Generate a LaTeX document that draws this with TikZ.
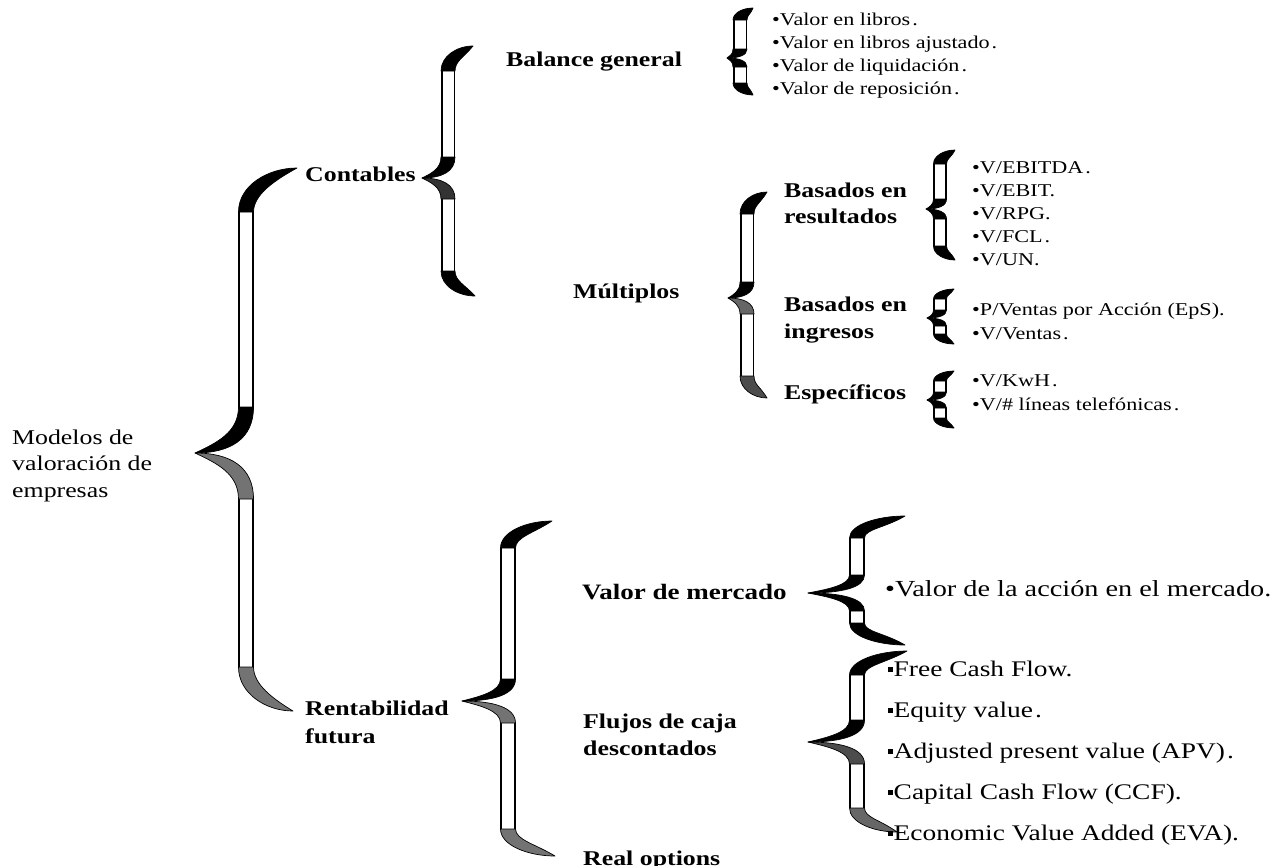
\documentclass[tikz,border=0pt]{standalone}
\usepackage{fontspec}
\setmainfont{Liberation Serif}[FakeStretch=1.23]
\newcommand\setrib[1]{\def\rbW{#1}\pgfmathsetmacro\rbD{#1-3}}
\def\ribT{black}\def\ribU{black}\def\ribL{black}\def\ribB{black}
% #1,#2 top tip; #3 x of vertical; #4,#5 cusp; #6,#7 bottom tip; #8 curl height; #9 cusp height
\newcommand\ribbon[9]{%
 \pgfmathsetmacro\rbXl{#3-\rbW/2}%
 \pgfmathsetmacro\rbXr{#3+\rbW/2}%
 \pgfmathsetmacro\rbT{min(\rbW*0.8,0.6*#8)}%
 % top curl
 \pgfmathsetmacro\tA{\rbXl+0.5*(#1-\rbXl)}%
 \pgfmathsetmacro\tB{#2+0.4*#8}%
 \pgfmathsetmacro\tE{#2+#8}%
 \pgfmathsetmacro\tC{#2+0.6*#8}%
 \pgfmathsetmacro\tD{#1-0.5*(#1-\rbXr)}%
 \pgfmathsetmacro\tF{#2+\rbT}%
 % cusp
 \pgfmathsetmacro\cA{#5-#9}%
 \pgfmathsetmacro\cB{#5-0.45*#9}%
 \pgfmathsetmacro\cC{#4+0.5*(\rbXl-#4)}%
 \pgfmathsetmacro\cD{#4+0.6*(\rbXr-#4)}%
 \pgfmathsetmacro\cE{#5-0.3*#9}%
 \pgfmathsetmacro\cF{#5+#9}%
 \pgfmathsetmacro\cG{#5+0.45*#9}%
 \pgfmathsetmacro\cH{#5+0.3*#9}%
 \pgfmathsetmacro\cU{#5-0.22*#9}%
 \pgfmathsetmacro\cV{#5+0.22*#9}%
 % bottom curl
 \pgfmathsetmacro\bA{\rbXl+0.5*(#6-\rbXl)}%
 \pgfmathsetmacro\bB{#7-0.4*#8}%
 \pgfmathsetmacro\bE{#7-#8}%
 \pgfmathsetmacro\bC{#7-0.6*#8}%
 \pgfmathsetmacro\bD{#6-0.5*(#6-\rbXr)}%
 \pgfmathsetmacro\bF{#7-\rbT}%
 \draw[rib] (#3,\tE) -- (#3,\cA);
 \draw[rib] (#3,\cF) -- (#3,\bE);
 \filldraw[curl,fill=\ribT] (#1,#2) .. controls (\tA,#2) and (\rbXl,\tB) .. (\rbXl,\tE) -- (\rbXr,\tE) .. controls (\rbXr,\tC) and (\tD,\tF) .. (#1,#2) -- cycle;
 \filldraw[curl,fill=\ribU] (\rbXl,\cA) .. controls (\rbXl,\cB) and (\cC,\cU) .. (#4,#5) .. controls (\cD,#5) and (\rbXr,\cE) .. (\rbXr,\cA) -- cycle;
 \filldraw[curl,fill=\ribL] (\rbXl,\cF) .. controls (\rbXl,\cG) and (\cC,\cV) .. (#4,#5) .. controls (\cD,#5) and (\rbXr,\cH) .. (\rbXr,\cF) -- cycle;
 \filldraw[curl,fill=\ribB] (#6,#7) .. controls (\bA,#7) and (\rbXl,\bB) .. (\rbXl,\bE) -- (\rbXr,\bE) .. controls (\rbXr,\bC) and (\bD,\bF) .. (#6,#7) -- cycle;
}
\tikzset{
 rib/.style={draw=black,line width=1.6pt,double=white,double distance=\rbD pt},
 curl/.style={draw=black,line width=0.7pt,line join=round},
 lab/.style={anchor=base west,inner sep=0pt,align=left,font=\fontsize{21}{27}\selectfont\bfseries},
 root/.style={anchor=base west,inner sep=0pt,align=left,font=\fontsize{21}{26.5}\selectfont},
 small/.style={anchor=base west,inner sep=0pt,align=left,font=\fontsize{18}{23}\selectfont},
 big/.style={anchor=base west,inner sep=0pt,align=left,font=\fontsize{22.3}{41}\selectfont},
}
\newcommand\sq{\rule[4pt]{4.5pt}{5.5pt}\kern1pt}
\begin{document}
\begin{tikzpicture}[x=1pt,y=-1pt]
\useasboundingbox (0,0) rectangle (1284,865);
\clip (0,0) rectangle (1284,865);
\fill[white] (0,0) rectangle (1284,865);

% braces
\setrib{15}\def\ribT{black}\def\ribU{black}\def\ribL{black!55}\def\ribB{black!55}
\ribbon{297}{168}{246}{195}{453}{293}{711}{44}{46}
\setrib{14}\def\ribT{black}\def\ribU{black}\def\ribL{black!80}\def\ribB{black}
\ribbon{473}{46}{448}{422}{178}{475}{296}{25}{21}
\setrib{14}\def\ribT{black}\def\ribU{black}\def\ribL{black}\def\ribB{black}
\ribbon{753}{8}{740}{727}{58}{753}{95}{12}{9}
\setrib{14}\def\ribT{black}\def\ribU{black}\def\ribL{black!60}\def\ribB{black!70}
\ribbon{767}{192}{747}{728}{298}{767}{398}{22}{16}
\setrib{13}\def\ribT{black}\def\ribU{black}\def\ribL{black}\def\ribB{black}
\ribbon{955}{150}{940}{926}{209}{955}{260}{14}{10}
\ribbon{954}{289}{940}{927}{318}{954}{344}{10}{8}
\ribbon{954}{371}{940}{927}{400}{954}{428}{10}{8}
\setrib{15}\def\ribT{black}\def\ribU{black}\def\ribL{black!55}\def\ribB{black!55}
\ribbon{552}{521}{508}{462}{701}{555}{856}{27}{22}
\def\ribT{black}\def\ribU{black}\def\ribL{black}\def\ribB{black}
\ribbon{905}{516}{857}{808}{593}{905}{645}{22}{18}
\def\ribT{black}\def\ribU{black}\def\ribL{black!70}\def\ribB{black!60}
\ribbon{907}{651}{857}{808}{742}{897}{832}{24}{22}

% labels (anchor = baseline of last line)
\node[root] (modelos) at (12,497) {Modelos de\\valoración de\\empresas};
\node[lab] (contables) at (305,181) {Contables};
\node[lab,font=\fontsize{21}{28}\selectfont\bfseries] (rent) at (305,743) {Rentabilidad\\futura};
\node[lab] (balance) at (506,66) {Balance general};
\node[lab] (multiplos) at (573,298) {Múltiplos};
\node[lab,font=\fontsize{21}{26}\selectfont\bfseries] (bres) at (784,223) {Basados en\\resultados};
\node[lab] (bing) at (784,338) {Basados en\\ingresos};
\node[lab] (espec) at (784,399) {Específicos};
\node[lab,font=\fontsize{22}{27}\selectfont\bfseries] (vmerc) at (582,599) {Valor de mercado};
\node[lab] (flujos) at (583,755) {Flujos de caja\\descontados};
\node[lab] (real) at (583,865) {Real options};

% lists
\node[small] (lbal) at (772,94) {•Valor en libros\kern2pt.\\•Valor en libros ajustado\kern2pt.\\•Valor de liquidación\kern2pt.\\•Valor de reposición\kern2pt.};
\node[small] (lres) at (972,265) {•V/EBITDA\kern2pt.\\•V/EBIT.\\•V/RPG.\\•V/FCL\kern2pt.\\•V/UN.};
\node[small,font=\fontsize{18}{24}\selectfont] (ling) at (972,339) {•P/Ventas por Acción (EpS).\\•V/Ventas\kern2pt.};
\node[small,font=\fontsize{18}{24}\selectfont] (lesp) at (972,410) {•V/KwH\kern2pt.\\•V/\# líneas telefónicas\kern2pt.};
\node[big,font=\fontsize{23}{27}\selectfont] (lmerc) at (885,596) {•Valor de la acción en el mercado.};
\node[big] (lflu) at (888,840) {\sq Free Cash Flow.\\\sq Equity value\kern2pt.\\\sq Adjusted present value (APV)\kern2pt.\\\sq Capital Cash Flow (CCF).\\\sq Economic Value Added (EVA).};
\end{tikzpicture}
\end{document}
